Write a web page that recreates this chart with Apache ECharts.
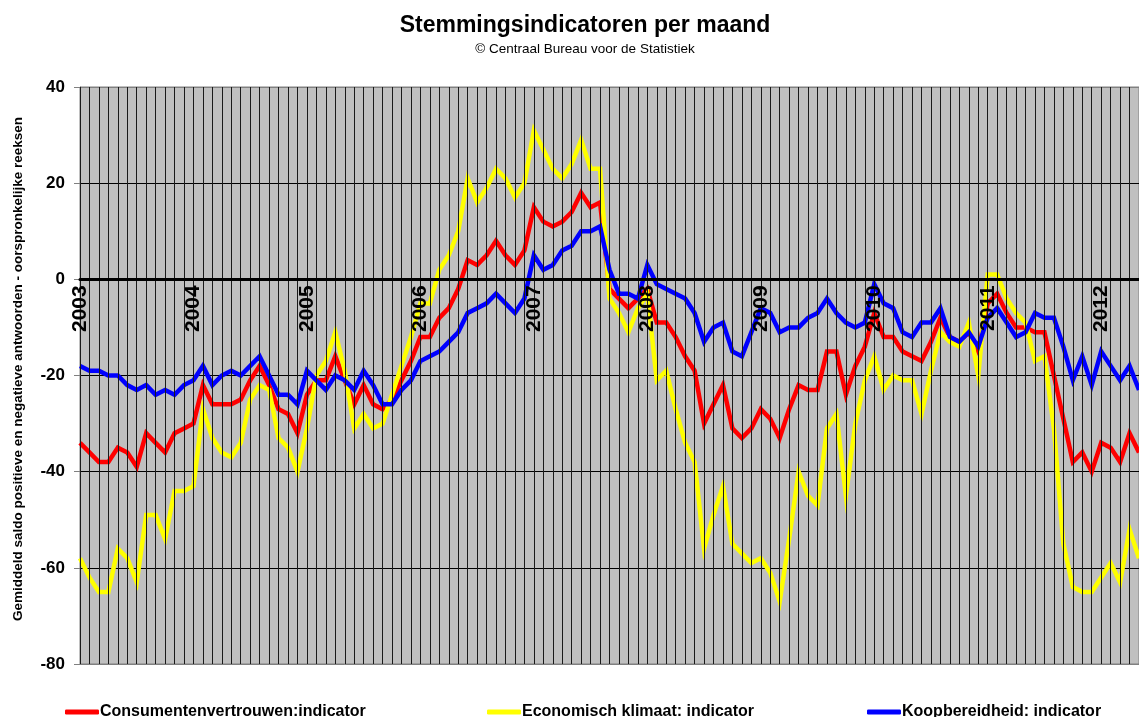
<!DOCTYPE html>
<html lang="nl">
<head>
    <meta charset="UTF-8">
    <title>Stemmingsindicatoren per maand</title>
    <style>
        body,html{
            height: 100%;
            width: 100%;
            margin: 0;
            background: #fff;
        }
    </style>
</head>
<body>

<div id="main" style="height: 717px; width: 1139px;"></div>
<script src="https://cdn.jsdelivr.net/npm/echarts@6/dist/echarts.min.js"></script>
<script>
    var font = 'Arial, "Liberation Sans", sans-serif';

    // jaren op de x-as (januari van elk jaar)
    var years = ['2003', '2004', '2005', '2006', '2007', '2008', '2009', '2010', '2011', '2012'];
    var nMonths = 113; // jan 2003 t/m mei 2012

    var consumentenvertrouwen = [
        -34, -36, -38, -38, -35, -36, -39, -32, -34, -36, -32, -31,
        -30, -22, -26, -26, -26, -25, -21, -18, -22, -27, -28, -32,
        -24, -21, -21, -16, -21, -26, -22, -26, -27, -25, -21, -17,
        -12, -12, -8, -6, -2, 4, 3, 5, 8, 5, 3, 6,
        15, 12, 11, 12, 14, 18, 15, 16, -2, -4, -6, -4,
        -2, -9, -9, -12, -16, -19, -30, -26, -22, -31, -33, -31,
        -27, -29, -33, -27, -22, -23, -23, -15, -15, -24, -18, -14,
        -7, -12, -12, -15, -16, -17, -13, -8, -12, -13, -11, -15,
        -5, -3, -7, -10, -10, -11, -11, -20, -29, -38, -36, -40,
        -34, -35, -38, -32, -36
    ];

    var economischKlimaat = [
        -58, -62, -65, -65, -56, -58, -63, -49, -49, -54, -44, -44,
        -43, -27, -33, -36, -37, -34, -25, -22, -23, -33, -35, -40,
        -31, -20, -17, -11, -19, -31, -28, -31, -30, -24, -18, -12,
        -5, -5, 2, 5, 10, 21, 16, 19, 23, 21, 17, 20,
        31, 27, 23, 21, 24, 29, 23, 23, -4, -7, -11, -6,
        -3, -21, -19, -27, -34, -38, -56, -49, -43, -55, -57, -59,
        -58, -61, -67, -54, -40, -45, -47, -31, -28, -45, -30, -21,
        -16, -23, -20, -21, -21, -28, -19, -11, -13, -14, -9, -20,
        1, 1, -4, -7, -9, -17, -16, -31, -55, -64, -65, -65,
        -62, -59, -63, -52, -58
    ];

    var koopbereidheid = [
        -18, -19, -19, -20, -20, -22, -23, -22, -24, -23, -24, -22,
        -21, -18, -22, -20, -19, -20, -18, -16, -20, -24, -24, -26,
        -19, -21, -23, -20, -21, -23, -19, -22, -26, -26, -23, -21,
        -17, -16, -15, -13, -11, -7, -6, -5, -3, -5, -7, -4,
        5, 2, 3, 6, 7, 10, 10, 11, 2, -3, -3, -4,
        3, -1, -2, -3, -4, -7, -13, -10, -9, -15, -16, -11,
        -6, -7, -11, -10, -10, -8, -7, -4, -7, -9, -10, -9,
        -1, -5, -6, -11, -12, -9, -9, -6, -12, -13, -11, -14,
        -8, -6, -9, -12, -11, -7, -8, -8, -14, -21, -16, -22,
        -15, -18, -21, -18, -23
    ];

    var seriesNames = ['Consumentenvertrouwen:indicator', 'Economisch klimaat: indicator', 'Koopbereidheid: indicator'];
    var seriesColors = ['#ff0000', '#ffff00', '#0000ff'];

    // maandcategorieen
    var months = [];
    for (var i = 0; i < nMonths; i++) {
        var y = years[0] * 1 + Math.floor(i / 12);
        var m = (i % 12) + 1;
        months.push(y + '-' + (m < 10 ? '0' + m : m));
    }

    var gridTop = 87, gridBottom = 53, chartH = 717;
    var yMin = -80, yMax = 40;
    // x-as op de nullijn: afstand van de onderkant van het plotvlak
    var plotH = chartH - gridTop - gridBottom;
    var zeroOffset = plotH * (0 - yMin) / (yMax - yMin);

    var myChart = echarts.init(document.getElementById('main'));

    function legendAt(left, idx) {
        return {
            left: left,
            top: 699,
            icon: 'roundRect',
            itemWidth: 34,
            itemHeight: 5,
            itemGap: 2,
            data: [seriesNames[idx]],
            textStyle: {fontFamily: font, fontWeight: 'bold', fontSize: 16, color: '#000', padding: [0, 0, 0, -4]}
        };
    }

    myChart.setOption({
        animation: false,
        backgroundColor: '#fff',
        title: {
            text: 'Stemmingsindicatoren per maand',
            subtext: '\u00a9 Centraal Bureau voor de Statistiek',
            left: 580,
            textAlign: 'center',
            top: 9,
            itemGap: 5,
            textStyle: {fontFamily: font, fontWeight: 'bold', fontSize: 23, color: '#000'},
            subtextStyle: {fontFamily: font, fontSize: 13.5, color: '#000'}
        },
        legend: [legendAt(60, 0), legendAt(482, 1), legendAt(862, 2)],
        grid: {
            left: 80,
            right: -2,
            top: gridTop,
            bottom: gridBottom,
            show: true,
            backgroundColor: '#c0c0c0',
            borderColor: '#808080',
            borderWidth: 1
        },
        xAxis: {
            type: 'category',
            data: months,
            boundaryGap: false,
            offset: -zeroOffset,
            z: 10,
            axisLine: {onZero: false, lineStyle: {color: '#000', width: 3}},
            axisTick: {show: false},
            axisLabel: {
                interval: function (idx) { return idx % 12 === 0; },
                rotate: 90,
                margin: 6,
                formatter: function (v) { return v.slice(0, 4); },
                fontFamily: font,
                fontWeight: 'bold',
                fontSize: 21,
                color: '#000'
            },
            splitLine: {
                show: true,
                interval: 0,
                lineStyle: {color: '#1a1a1a', width: 1}
            }
        },
        yAxis: {
            type: 'value',
            min: yMin,
            max: yMax,
            interval: 20,
            name: 'Gemiddeld saldo positieve en negatieve antwoorden - oorspronkelijke reeksen',
            nameLocation: 'middle',
            nameRotate: 90,
            nameGap: 55,
            nameTextStyle: {fontFamily: font, fontWeight: 'bold', fontSize: 13.5, color: '#000', padding: [0, 0, 0, 13]},
            axisLine: {show: true, lineStyle: {color: '#808080', width: 1}},
            axisTick: {show: true, length: 6, lineStyle: {color: '#808080'}},
            axisLabel: {
                margin: 15,
                fontFamily: font,
                fontWeight: 'bold',
                fontSize: 17,
                color: '#000'
            },
            splitLine: {
                show: true,
                lineStyle: {color: ['#808080', '#000', '#000', '#000', '#000', '#000', '#808080'], width: 1}
            }
        },
        series: [
            {
                name: seriesNames[0],
                type: 'line',
                data: consumentenvertrouwen,
                showSymbol: false,
                color: seriesColors[0],
                lineStyle: {width: 4.5, join: 'miter'}
            },
            {
                name: seriesNames[1],
                type: 'line',
                data: economischKlimaat,
                showSymbol: false,
                color: seriesColors[1],
                lineStyle: {width: 4.5, join: 'miter'}
            },
            {
                name: seriesNames[2],
                type: 'line',
                data: koopbereidheid,
                showSymbol: false,
                color: seriesColors[2],
                lineStyle: {width: 4.5, join: 'miter'}
            }
        ]
    });
</script>
</body>
</html>
